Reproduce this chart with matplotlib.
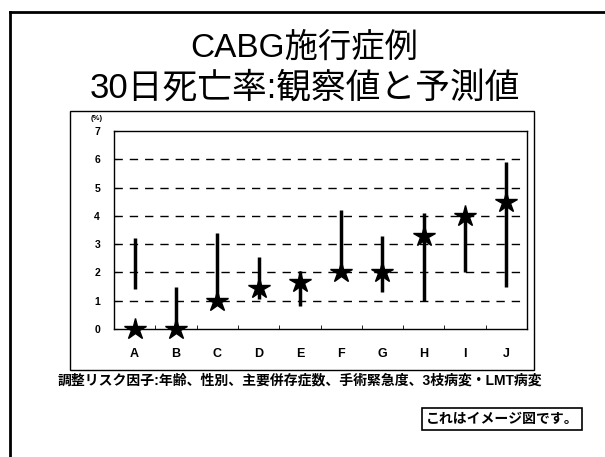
import numpy as np
import matplotlib.pyplot as plt
from matplotlib.patches import Rectangle
from matplotlib.lines import Line2D

cats = ['A', 'B', 'C', 'D', 'E', 'F', 'G', 'H', 'I', 'J']
observed = [0.0, 0.0, 1.0, 1.45, 1.65, 2.0, 2.0, 3.3, 4.0, 4.5]
pred_low = [1.4, 0.0, 1.0, 1.05, 0.8, 2.0, 1.3, 1.0, 2.0, 1.5]
pred_high = [3.2, 1.5, 3.4, 2.55, 2.05, 4.2, 3.3, 4.1, 4.15, 5.9]
yticks = [0, 1, 2, 3, 4, 5, 6, 7]

title1 = 'CABG施行症例'
title2 = '30日死亡率:観察値と予測値'
note = '調整リスク因子:年齢、性別、主要併存症数、手術緊急度、3枝病変・LMT病変'
image_note = 'これはイメージ図です。'

jp = ['Liberation Sans', 'Noto Sans CJK JP', 'DejaVu Sans']
plt.rcParams['font.family'] = jp

W, H = 605, 457
fig = plt.figure(figsize=(W / 100, H / 100), dpi=100)

def fx(px):
    return px / W

def fy(py):
    return 1 - py / H

# slide frame
fig.add_artist(Line2D([fx(10), fx(10)], [fy(12), 0], color='black', lw=2))
fig.add_artist(Line2D([fx(10), 1], [fy(12), fy(12)], color='black', lw=2))

# titles
fig.text(fx(304), fy(48), title1, ha='center', va='center', fontsize=24)
fig.text(fx(305), fy(88), title2, ha='center', va='center', fontsize=25)

# chart box
fig.add_artist(Rectangle((fx(70), fy(370)), fx(534) - fx(70), fy(111) - fy(370),
                         transform=fig.transFigure, fill=False, ec='black', lw=1))

ax = fig.add_axes([fx(114), fy(329), fx(527) - fx(114), fy(131) - fy(329)])
x = np.arange(len(cats))

ax.vlines(x, pred_low, pred_high, color='black', lw=2.5, zorder=2)
ax.plot(x, observed, ls='none', marker='*', ms=16, color='black', zorder=3, clip_on=False)

ax.set_xlim(-0.5, len(cats) - 0.5)
ax.set_ylim(0, 7)
ax.set_yticks(yticks)
ax.set_yticklabels([str(t) for t in yticks], fontsize=7.5, fontweight='bold')
ax.set_xticks(x)
ax.set_xticklabels(cats, fontsize=9, fontweight='bold')
ax.set_xticks(np.arange(0.5, len(cats) - 1, 1), minor=True)
ax.tick_params(axis='x', which='major', length=0, pad=14)
ax.tick_params(axis='x', which='minor', direction='in', length=3)
ax.tick_params(axis='y', direction='in', length=3, pad=10)
for t in yticks[1:-1]:
    ax.axhline(t, color='black', lw=1, ls=(0, (6, 5)), zorder=1)
for s in ax.spines.values():
    s.set_linewidth(1)

fig.text(fx(97), fy(118), '(%)', fontsize=5.5, fontweight='bold', ha='center', va='center')

fig.text(fx(300), fy(381), note, ha='center', va='center', fontsize=10, fontweight='bold')

fig.text(fx(502), fy(419), image_note, ha='center', va='center', fontsize=10, fontweight='bold',
         bbox=dict(boxstyle='square,pad=0.3', fc='white', ec='black', lw=1.2))

fig.savefig('out.png', dpi=100)
